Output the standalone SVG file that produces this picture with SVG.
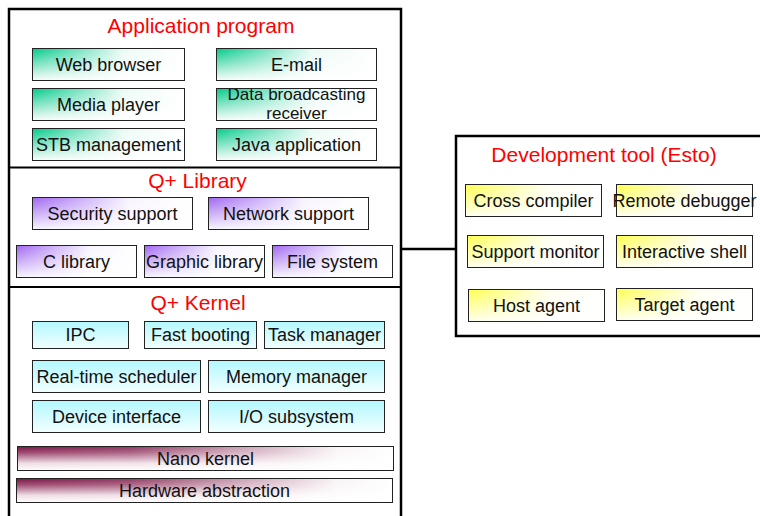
<svg xmlns="http://www.w3.org/2000/svg" width="760" height="516" viewBox="0 0 760 516">
<defs>
<linearGradient id="gGreen" x1="0" y1="0" x2="0" y2="1"><stop offset="0" stop-color="#00C98A"/><stop offset="0.85" stop-color="#D8F6EB"/><stop offset="1" stop-color="#F6FDFA"/></linearGradient>
<linearGradient id="gPurple" x1="0" y1="0" x2="0" y2="1"><stop offset="0" stop-color="#A066F0"/><stop offset="0.85" stop-color="#EADFFB"/><stop offset="1" stop-color="#FAF7FE"/></linearGradient>
<linearGradient id="gCyan" x1="0" y1="0" x2="0" y2="1"><stop offset="0" stop-color="#B2F8FF"/><stop offset="1" stop-color="#F2FFFF"/></linearGradient>
<linearGradient id="gYellow" x1="0" y1="0" x2="0" y2="1"><stop offset="0" stop-color="#FFFF50"/><stop offset="0.85" stop-color="#FFFFD6"/><stop offset="1" stop-color="#FFFFF4"/></linearGradient>
<linearGradient id="gMaroon" x1="0" y1="0" x2="0" y2="1"><stop offset="0" stop-color="#7C1646"/><stop offset="0.25" stop-color="#9E4A70"/><stop offset="0.7" stop-color="#EEDDE4"/><stop offset="1" stop-color="#FFFFFF"/></linearGradient>
<linearGradient id="fadeW" x1="0" y1="0" x2="1" y2="0"><stop offset="0" stop-color="#FFFFFF" stop-opacity="0"/><stop offset="0.6" stop-color="#FFFFFF" stop-opacity="0.92"/><stop offset="1" stop-color="#FFFFFF" stop-opacity="1"/></linearGradient>
<linearGradient id="fadeM" x1="0" y1="0" x2="1" y2="0"><stop offset="0" stop-color="#FFFFFF" stop-opacity="0"/><stop offset="0.3" stop-color="#FFFFFF" stop-opacity="0.15"/><stop offset="0.6" stop-color="#FFFFFF" stop-opacity="0.6"/><stop offset="0.85" stop-color="#FFFFFF" stop-opacity="0.95"/><stop offset="1" stop-color="#FFFFFF" stop-opacity="1"/></linearGradient>
</defs>
<style>
.frame{fill:#FFFFFF;stroke:#000000;stroke-width:2.5}
.div{stroke:#000000;stroke-width:2.2}
.conn{stroke:#000000;stroke-width:2.5;fill:none}
.ov{fill:url(#fadeW);stroke:#222222;stroke-width:1}
.ovm{fill:url(#fadeM);stroke:#222222;stroke-width:1}
.box{stroke:#222222;stroke-width:1}
.g{fill:url(#gGreen)}
.p{fill:url(#gPurple)}
.c{fill:url(#gCyan)}
.y{fill:url(#gYellow)}
.m{fill:url(#gMaroon)}
.t{font-family:"Liberation Sans",Arial,sans-serif;font-size:18px;fill:#111111;text-anchor:middle}
.t2{font-family:"Liberation Sans",Arial,sans-serif;font-size:17px;fill:#111111;text-anchor:middle}
.h{font-family:"Liberation Sans",Arial,sans-serif;font-size:21px;fill:#FF0000;text-anchor:middle}
</style>
<rect x="0" y="0" width="760" height="516" fill="#FFFFFF"/>
<g id="software-stack">
<rect class="frame" x="9" y="9" width="392" height="530"/>
<line class="div" x1="9" y1="167.5" x2="401" y2="167.5"/>
<line class="div" x1="9" y1="287" x2="401" y2="287"/>
</g>
<g id="connectors">
<line class="conn" x1="401" y1="249" x2="456" y2="249"/>
</g>
<g id="application-program">
<text class="h" x="201" y="33">Application program</text>
</g>
<g id="web-browser"><rect class="g" x="32.5" y="48.5" width="152" height="32"/><rect class="ov" x="32.5" y="48.5" width="152" height="32"/><text class="t" x="108.5" y="70.5">Web browser</text></g>
<g id="e-mail"><rect class="g" x="216.5" y="48.5" width="160" height="32"/><rect class="ov" x="216.5" y="48.5" width="160" height="32"/><text class="t" x="296.5" y="70.5">E-mail</text></g>
<g id="media-player"><rect class="g" x="32.5" y="88.5" width="152" height="32"/><rect class="ov" x="32.5" y="88.5" width="152" height="32"/><text class="t" x="108.5" y="110.5">Media player</text></g>
<g id="data-broadcasting"><rect class="g" x="216.5" y="88.5" width="160" height="32"/><rect class="ov" x="216.5" y="88.5" width="160" height="32"/><text class="t2" x="296.5" y="100">Data broadcasting</text><text class="t2" x="296.5" y="118.5">receiver</text><rect x="216.5" y="88.5" width="160" height="32" fill="none" stroke="#222222" stroke-width="1"/></g>
<g id="stb-management"><rect class="g" x="32.5" y="128.5" width="152" height="32"/><rect class="ov" x="32.5" y="128.5" width="152" height="32"/><text class="t" x="108.5" y="150.5">STB management</text></g>
<g id="java-application"><rect class="g" x="216.5" y="128.5" width="160" height="32"/><rect class="ov" x="216.5" y="128.5" width="160" height="32"/><text class="t" x="296.5" y="150.5">Java application</text></g>
<g id="q-library">
<text class="h" x="197.5" y="188">Q+ Library</text>
</g>
<g id="security-support"><rect class="p" x="32.5" y="197.5" width="160" height="32"/><rect class="ov" x="32.5" y="197.5" width="160" height="32"/><text class="t" x="112.5" y="219.5">Security support</text></g>
<g id="network-support"><rect class="p" x="208.5" y="197.5" width="160" height="32"/><rect class="ov" x="208.5" y="197.5" width="160" height="32"/><text class="t" x="288.5" y="219.5">Network support</text></g>
<g id="c-library"><rect class="p" x="16.5" y="245.5" width="120" height="32"/><rect class="ov" x="16.5" y="245.5" width="120" height="32"/><text class="t" x="76.5" y="267.5">C library</text></g>
<g id="graphic-library"><rect class="p" x="144.5" y="245.5" width="120" height="32"/><rect class="ov" x="144.5" y="245.5" width="120" height="32"/><text class="t" x="204.5" y="267.5">Graphic library</text></g>
<g id="file-system"><rect class="p" x="272.5" y="245.5" width="120" height="32"/><rect class="ov" x="272.5" y="245.5" width="120" height="32"/><text class="t" x="332.5" y="267.5">File system</text></g>
<g id="q-kernel">
<text class="h" x="198" y="310">Q+ Kernel</text>
</g>
<g id="ipc"><rect class="box c" x="32.5" y="321.5" width="96" height="27"/><text class="t" x="80.5" y="341">IPC</text></g>
<g id="fast-booting"><rect class="box c" x="144.5" y="321.5" width="112" height="27"/><text class="t" x="200.5" y="341">Fast booting</text></g>
<g id="task-manager"><rect class="box c" x="264.5" y="321.5" width="120" height="27"/><text class="t" x="324.5" y="341">Task manager</text></g>
<g id="real-time-scheduler"><rect class="box c" x="32.5" y="360.5" width="168" height="32"/><text class="t" x="116.5" y="383">Real-time scheduler</text></g>
<g id="memory-manager"><rect class="box c" x="208.5" y="360.5" width="176" height="32"/><text class="t" x="296.5" y="383">Memory manager</text></g>
<g id="device-interface"><rect class="box c" x="32.5" y="400.5" width="168" height="32"/><text class="t" x="116.5" y="423">Device interface</text></g>
<g id="io-subsystem"><rect class="box c" x="208.5" y="400.5" width="176" height="32"/><text class="t" x="296.5" y="423">I/O subsystem</text></g>
<g id="nano-kernel"><rect class="m" x="17.5" y="446.5" width="376" height="24"/><rect class="ovm" x="17.5" y="446.5" width="376" height="24"/><text class="t" x="205.5" y="465">Nano kernel</text></g>
<g id="hardware-abstraction"><rect class="m" x="16.5" y="478.5" width="376" height="24"/><rect class="ovm" x="16.5" y="478.5" width="376" height="24"/><text class="t" x="204.5" y="497">Hardware abstraction</text></g>
<g id="development-tool">
<rect class="frame" x="456" y="136" width="320" height="200"/>
<text class="h" x="604" y="162">Development tool (Esto)</text>
</g>
<g id="cross-compiler"><rect class="y" x="465.5" y="184.5" width="136" height="32"/><rect class="ov" x="465.5" y="184.5" width="136" height="32"/><text class="t" x="533.5" y="207">Cross compiler</text></g>
<g id="remote-debugger"><rect class="y" x="616.5" y="184.5" width="136" height="32"/><rect class="ov" x="616.5" y="184.5" width="136" height="32"/><text class="t" x="684.5" y="207">Remote debugger</text></g>
<g id="support-monitor"><rect class="y" x="467.5" y="235.5" width="136" height="32"/><rect class="ov" x="467.5" y="235.5" width="136" height="32"/><text class="t" x="535.5" y="258">Support monitor</text></g>
<g id="interactive-shell"><rect class="y" x="616.5" y="235.5" width="136" height="32"/><rect class="ov" x="616.5" y="235.5" width="136" height="32"/><text class="t" x="684.5" y="257.5">Interactive shell</text></g>
<g id="host-agent"><rect class="y" x="468.5" y="289.5" width="136" height="32"/><rect class="ov" x="468.5" y="289.5" width="136" height="32"/><text class="t" x="536.5" y="312">Host agent</text></g>
<g id="target-agent"><rect class="y" x="616.5" y="288.5" width="136" height="32"/><rect class="ov" x="616.5" y="288.5" width="136" height="32"/><text class="t" x="684.5" y="311">Target agent</text></g>
</svg>
